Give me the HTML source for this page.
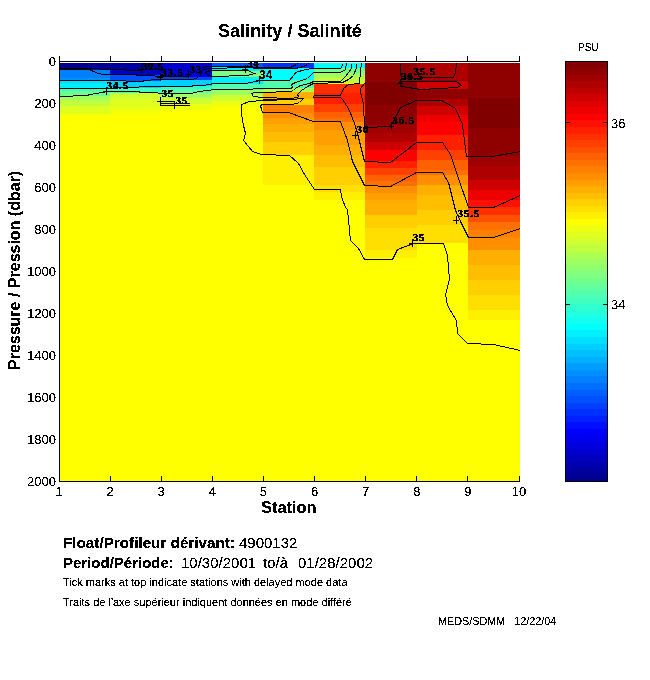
<!DOCTYPE html>
<html><head><meta charset="utf-8">
<style>
html,body{margin:0;padding:0;background:#fff;width:650px;height:680px;overflow:hidden;}
body{position:relative;font-family:"Liberation Sans",sans-serif;color:#000;}
.t{position:absolute;white-space:nowrap;line-height:1;filter:url(#crisp);}
svg{position:absolute;left:0;top:0;}
</style></head><body>
<svg width="650" height="680" viewBox="0 0 650 680">
<defs><filter id="crisp" x="-10%" y="-10%" width="120%" height="120%"><feComponentTransfer><feFuncA type="discrete" tableValues="0 0 1 1 1"/></feComponentTransfer></filter></defs>
<g shape-rendering="crispEdges">
<rect x="60" y="63" width="50" height="6" fill="#00008f"/>
<rect x="60" y="69" width="50" height="1" fill="#0000df"/>
<rect x="60" y="70" width="50" height="8" fill="#0080ff"/>
<rect x="60" y="78" width="50" height="3" fill="#008fff"/>
<rect x="60" y="81" width="50" height="3" fill="#00dfff"/>
<rect x="60" y="84" width="50" height="4" fill="#00efff"/>
<rect x="60" y="88" width="50" height="3" fill="#40ffbf"/>
<rect x="60" y="91" width="50" height="5" fill="#70ff8f"/>
<rect x="60" y="96" width="50" height="4" fill="#9fff60"/>
<rect x="60" y="100" width="50" height="6" fill="#bfff40"/>
<rect x="60" y="106" width="50" height="8" fill="#dfff20"/>
<rect x="60" y="114" width="50" height="367" fill="#ffff00"/>
<rect x="110" y="63" width="51" height="7" fill="#00009f"/>
<rect x="110" y="70" width="51" height="5" fill="#0000bf"/>
<rect x="110" y="75" width="51" height="6" fill="#0050ff"/>
<rect x="110" y="81" width="51" height="7" fill="#00cfff"/>
<rect x="110" y="88" width="51" height="5" fill="#40ffbf"/>
<rect x="110" y="93" width="51" height="6" fill="#cfff30"/>
<rect x="110" y="99" width="51" height="8" fill="#dfff20"/>
<rect x="110" y="107" width="51" height="6" fill="#efff10"/>
<rect x="110" y="113" width="51" height="368" fill="#ffff00"/>
<rect x="161" y="63" width="51" height="14" fill="#0000cf"/>
<rect x="161" y="77" width="51" height="3" fill="#0040ff"/>
<rect x="161" y="80" width="51" height="6" fill="#00cfff"/>
<rect x="161" y="86" width="51" height="3" fill="#30ffcf"/>
<rect x="161" y="89" width="51" height="4" fill="#60ff9f"/>
<rect x="161" y="93" width="51" height="5" fill="#9fff60"/>
<rect x="161" y="98" width="51" height="6" fill="#cfff30"/>
<rect x="161" y="104" width="51" height="6" fill="#efff10"/>
<rect x="161" y="110" width="51" height="371" fill="#ffff00"/>
<rect x="212" y="63" width="51" height="4" fill="#0050ff"/>
<rect x="212" y="67" width="51" height="4" fill="#00efff"/>
<rect x="212" y="71" width="51" height="6" fill="#80ff80"/>
<rect x="212" y="77" width="51" height="7" fill="#00efff"/>
<rect x="212" y="84" width="51" height="6" fill="#50ffaf"/>
<rect x="212" y="90" width="51" height="5" fill="#9fff60"/>
<rect x="212" y="95" width="51" height="6" fill="#cfff30"/>
<rect x="212" y="101" width="51" height="6" fill="#efff10"/>
<rect x="212" y="107" width="51" height="374" fill="#ffff00"/>
<rect x="263" y="63" width="51" height="5" fill="#0030ff"/>
<rect x="263" y="68" width="51" height="12" fill="#00ffff"/>
<rect x="263" y="80" width="51" height="8" fill="#50ffaf"/>
<rect x="263" y="88" width="51" height="4" fill="#afff50"/>
<rect x="263" y="92" width="51" height="7" fill="#ffaf00"/>
<rect x="263" y="99" width="51" height="6" fill="#ffcf00"/>
<rect x="263" y="105" width="51" height="8" fill="#ff8000"/>
<rect x="263" y="113" width="51" height="5" fill="#ff8f00"/>
<rect x="263" y="118" width="51" height="6" fill="#ff9f00"/>
<rect x="263" y="124" width="51" height="8" fill="#ffaf00"/>
<rect x="263" y="132" width="51" height="10" fill="#ffbf00"/>
<rect x="263" y="142" width="51" height="13" fill="#ffcf00"/>
<rect x="263" y="155" width="51" height="30" fill="#ffef00"/>
<rect x="263" y="185" width="51" height="296" fill="#ffff00"/>
<rect x="314" y="63" width="51" height="5" fill="#00ffff"/>
<rect x="314" y="68" width="51" height="5" fill="#70ff8f"/>
<rect x="314" y="73" width="51" height="4" fill="#9fff60"/>
<rect x="314" y="77" width="51" height="6" fill="#bfff40"/>
<rect x="314" y="83" width="51" height="1" fill="#ffef00"/>
<rect x="314" y="84" width="51" height="9" fill="#ff3000"/>
<rect x="314" y="93" width="51" height="11" fill="#ff2000"/>
<rect x="314" y="104" width="51" height="8" fill="#ff4000"/>
<rect x="314" y="112" width="51" height="6" fill="#ff6000"/>
<rect x="314" y="118" width="51" height="4" fill="#ff7000"/>
<rect x="314" y="122" width="51" height="8" fill="#ff8f00"/>
<rect x="314" y="130" width="51" height="15" fill="#ff9f00"/>
<rect x="314" y="145" width="51" height="10" fill="#ffaf00"/>
<rect x="314" y="155" width="51" height="12" fill="#ffbf00"/>
<rect x="314" y="167" width="51" height="18" fill="#ffcf00"/>
<rect x="314" y="185" width="51" height="7" fill="#ffdf00"/>
<rect x="314" y="192" width="51" height="8" fill="#ffef00"/>
<rect x="314" y="200" width="51" height="281" fill="#ffff00"/>
<rect x="365" y="63" width="52" height="19" fill="#8f0000"/>
<rect x="365" y="82" width="52" height="23" fill="#800000"/>
<rect x="365" y="105" width="52" height="20" fill="#8f0000"/>
<rect x="365" y="125" width="52" height="8" fill="#9f0000"/>
<rect x="365" y="133" width="52" height="9" fill="#af0000"/>
<rect x="365" y="142" width="52" height="8" fill="#cf0000"/>
<rect x="365" y="150" width="52" height="11" fill="#ff0000"/>
<rect x="365" y="161" width="52" height="7" fill="#ff2000"/>
<rect x="365" y="168" width="52" height="7" fill="#ff4000"/>
<rect x="365" y="175" width="52" height="6" fill="#ff6000"/>
<rect x="365" y="181" width="52" height="5" fill="#ff7000"/>
<rect x="365" y="186" width="52" height="7" fill="#ff8f00"/>
<rect x="365" y="193" width="52" height="7" fill="#ff9f00"/>
<rect x="365" y="200" width="52" height="15" fill="#ffaf00"/>
<rect x="365" y="215" width="52" height="13" fill="#ffcf00"/>
<rect x="365" y="228" width="52" height="22" fill="#ffdf00"/>
<rect x="365" y="250" width="52" height="8" fill="#ffef00"/>
<rect x="365" y="258" width="52" height="223" fill="#ffff00"/>
<rect x="417" y="63" width="51" height="17" fill="#af0000"/>
<rect x="417" y="80" width="51" height="1" fill="#8f0000"/>
<rect x="417" y="81" width="51" height="8" fill="#cf0000"/>
<rect x="417" y="89" width="51" height="10" fill="#8f0000"/>
<rect x="417" y="99" width="51" height="7" fill="#af0000"/>
<rect x="417" y="106" width="51" height="9" fill="#cf0000"/>
<rect x="417" y="115" width="51" height="7" fill="#ef0000"/>
<rect x="417" y="122" width="51" height="13" fill="#ff0000"/>
<rect x="417" y="135" width="51" height="15" fill="#ff2000"/>
<rect x="417" y="150" width="51" height="10" fill="#ff4000"/>
<rect x="417" y="160" width="51" height="10" fill="#ff6000"/>
<rect x="417" y="170" width="51" height="5" fill="#ff7000"/>
<rect x="417" y="175" width="51" height="10" fill="#ff8f00"/>
<rect x="417" y="185" width="51" height="10" fill="#ffaf00"/>
<rect x="417" y="195" width="51" height="15" fill="#ffbf00"/>
<rect x="417" y="210" width="51" height="15" fill="#ffcf00"/>
<rect x="417" y="225" width="51" height="18" fill="#ffdf00"/>
<rect x="417" y="243" width="51" height="238" fill="#ffff00"/>
<rect x="468" y="63" width="52" height="35" fill="#8f0000"/>
<rect x="468" y="98" width="52" height="30" fill="#800000"/>
<rect x="468" y="128" width="52" height="28" fill="#8f0000"/>
<rect x="468" y="156" width="52" height="10" fill="#9f0000"/>
<rect x="468" y="166" width="52" height="14" fill="#af0000"/>
<rect x="468" y="180" width="52" height="10" fill="#cf0000"/>
<rect x="468" y="190" width="52" height="10" fill="#ef0000"/>
<rect x="468" y="200" width="52" height="7" fill="#ff1000"/>
<rect x="468" y="207" width="52" height="8" fill="#ff3000"/>
<rect x="468" y="215" width="52" height="7" fill="#ff5000"/>
<rect x="468" y="222" width="52" height="8" fill="#ff7000"/>
<rect x="468" y="230" width="52" height="7" fill="#ff8000"/>
<rect x="468" y="237" width="52" height="13" fill="#ff8f00"/>
<rect x="468" y="250" width="52" height="15" fill="#ffaf00"/>
<rect x="468" y="265" width="52" height="15" fill="#ffbf00"/>
<rect x="468" y="280" width="52" height="15" fill="#ffcf00"/>
<rect x="468" y="295" width="52" height="15" fill="#ffdf00"/>
<rect x="468" y="310" width="52" height="10" fill="#ffef00"/>
<rect x="468" y="320" width="52" height="161" fill="#ffff00"/>
<rect x="566" y="474.44" width="41" height="6.96" fill="#00008f"/>
<rect x="566" y="467.88" width="41" height="6.96" fill="#00009f"/>
<rect x="566" y="461.31" width="41" height="6.96" fill="#0000af"/>
<rect x="566" y="454.75" width="41" height="6.96" fill="#0000bf"/>
<rect x="566" y="448.19" width="41" height="6.96" fill="#0000cf"/>
<rect x="566" y="441.62" width="41" height="6.96" fill="#0000df"/>
<rect x="566" y="435.06" width="41" height="6.96" fill="#0000ef"/>
<rect x="566" y="428.50" width="41" height="6.96" fill="#0000ff"/>
<rect x="566" y="421.94" width="41" height="6.96" fill="#0010ff"/>
<rect x="566" y="415.38" width="41" height="6.96" fill="#0020ff"/>
<rect x="566" y="408.81" width="41" height="6.96" fill="#0030ff"/>
<rect x="566" y="402.25" width="41" height="6.96" fill="#0040ff"/>
<rect x="566" y="395.69" width="41" height="6.96" fill="#0050ff"/>
<rect x="566" y="389.12" width="41" height="6.96" fill="#0060ff"/>
<rect x="566" y="382.56" width="41" height="6.96" fill="#0070ff"/>
<rect x="566" y="376.00" width="41" height="6.96" fill="#0080ff"/>
<rect x="566" y="369.44" width="41" height="6.96" fill="#008fff"/>
<rect x="566" y="362.88" width="41" height="6.96" fill="#009fff"/>
<rect x="566" y="356.31" width="41" height="6.96" fill="#00afff"/>
<rect x="566" y="349.75" width="41" height="6.96" fill="#00bfff"/>
<rect x="566" y="343.19" width="41" height="6.96" fill="#00cfff"/>
<rect x="566" y="336.62" width="41" height="6.96" fill="#00dfff"/>
<rect x="566" y="330.06" width="41" height="6.96" fill="#00efff"/>
<rect x="566" y="323.50" width="41" height="6.96" fill="#00ffff"/>
<rect x="566" y="316.94" width="41" height="6.96" fill="#10ffef"/>
<rect x="566" y="310.38" width="41" height="6.96" fill="#20ffdf"/>
<rect x="566" y="303.81" width="41" height="6.96" fill="#30ffcf"/>
<rect x="566" y="297.25" width="41" height="6.96" fill="#40ffbf"/>
<rect x="566" y="290.69" width="41" height="6.96" fill="#50ffaf"/>
<rect x="566" y="284.12" width="41" height="6.96" fill="#60ff9f"/>
<rect x="566" y="277.56" width="41" height="6.96" fill="#70ff8f"/>
<rect x="566" y="271.00" width="41" height="6.96" fill="#80ff80"/>
<rect x="566" y="264.44" width="41" height="6.96" fill="#8fff70"/>
<rect x="566" y="257.88" width="41" height="6.96" fill="#9fff60"/>
<rect x="566" y="251.31" width="41" height="6.96" fill="#afff50"/>
<rect x="566" y="244.75" width="41" height="6.96" fill="#bfff40"/>
<rect x="566" y="238.19" width="41" height="6.96" fill="#cfff30"/>
<rect x="566" y="231.62" width="41" height="6.96" fill="#dfff20"/>
<rect x="566" y="225.06" width="41" height="6.96" fill="#efff10"/>
<rect x="566" y="218.50" width="41" height="6.96" fill="#ffff00"/>
<rect x="566" y="211.94" width="41" height="6.96" fill="#ffef00"/>
<rect x="566" y="205.38" width="41" height="6.96" fill="#ffdf00"/>
<rect x="566" y="198.81" width="41" height="6.96" fill="#ffcf00"/>
<rect x="566" y="192.25" width="41" height="6.96" fill="#ffbf00"/>
<rect x="566" y="185.69" width="41" height="6.96" fill="#ffaf00"/>
<rect x="566" y="179.12" width="41" height="6.96" fill="#ff9f00"/>
<rect x="566" y="172.56" width="41" height="6.96" fill="#ff8f00"/>
<rect x="566" y="166.00" width="41" height="6.96" fill="#ff8000"/>
<rect x="566" y="159.44" width="41" height="6.96" fill="#ff7000"/>
<rect x="566" y="152.88" width="41" height="6.96" fill="#ff6000"/>
<rect x="566" y="146.31" width="41" height="6.96" fill="#ff5000"/>
<rect x="566" y="139.75" width="41" height="6.96" fill="#ff4000"/>
<rect x="566" y="133.19" width="41" height="6.96" fill="#ff3000"/>
<rect x="566" y="126.62" width="41" height="6.96" fill="#ff2000"/>
<rect x="566" y="120.06" width="41" height="6.96" fill="#ff1000"/>
<rect x="566" y="113.50" width="41" height="6.96" fill="#ff0000"/>
<rect x="566" y="106.94" width="41" height="6.96" fill="#ef0000"/>
<rect x="566" y="100.38" width="41" height="6.96" fill="#df0000"/>
<rect x="566" y="93.81" width="41" height="6.96" fill="#cf0000"/>
<rect x="566" y="87.25" width="41" height="6.96" fill="#bf0000"/>
<rect x="566" y="80.69" width="41" height="6.96" fill="#af0000"/>
<rect x="566" y="74.12" width="41" height="6.96" fill="#9f0000"/>
<rect x="566" y="67.56" width="41" height="6.96" fill="#8f0000"/>
<rect x="566" y="61.00" width="41" height="6.96" fill="#800000"/>
<rect x="565" y="61" width="43" height="1" fill="#000"/><rect x="565" y="481" width="43" height="1" fill="#000"/><rect x="565" y="61" width="1" height="421" fill="#000"/><rect x="607" y="61" width="1" height="421" fill="#000"/>
<rect x="566" y="122" width="4" height="1" fill="#000"/><rect x="603" y="122" width="4" height="1" fill="#000"/>
<rect x="566" y="304" width="4" height="1" fill="#000"/><rect x="603" y="304" width="4" height="1" fill="#000"/>
<rect x="59" y="61" width="461" height="1" fill="#000"/>
<rect x="59" y="481" width="461" height="1" fill="#000"/>
<rect x="59" y="61" width="1" height="421" fill="#000"/>
<rect x="59" y="56" width="1" height="5" fill="#000"/>
<rect x="59" y="476" width="1" height="5" fill="#000"/>
<rect x="110" y="56" width="1" height="5" fill="#000"/>
<rect x="110" y="476" width="1" height="5" fill="#000"/>
<rect x="161" y="56" width="1" height="5" fill="#000"/>
<rect x="161" y="476" width="1" height="5" fill="#000"/>
<rect x="212" y="56" width="1" height="5" fill="#000"/>
<rect x="212" y="476" width="1" height="5" fill="#000"/>
<rect x="263" y="56" width="1" height="5" fill="#000"/>
<rect x="263" y="476" width="1" height="5" fill="#000"/>
<rect x="314" y="56" width="1" height="5" fill="#000"/>
<rect x="314" y="476" width="1" height="5" fill="#000"/>
<rect x="365" y="56" width="1" height="5" fill="#000"/>
<rect x="365" y="476" width="1" height="5" fill="#000"/>
<rect x="416" y="56" width="1" height="5" fill="#000"/>
<rect x="416" y="476" width="1" height="5" fill="#000"/>
<rect x="467" y="56" width="1" height="5" fill="#000"/>
<rect x="467" y="476" width="1" height="5" fill="#000"/>
<rect x="519" y="56" width="1" height="5" fill="#000"/>
<rect x="519" y="476" width="1" height="5" fill="#000"/>

</g>
<defs><clipPath id="axclip"><rect x="60" y="62" width="460" height="419"/></clipPath></defs>
<g shape-rendering="crispEdges">
<polyline fill="none" stroke="#000" stroke-width="1" points="59.5,68.5 89.5,68.5 109.5,69.5 141.5,70.5 146.5,68.5 150.5,63.5"/>
<polyline fill="none" stroke="#000" stroke-width="1" points="59.5,69.5 89.5,69.5 93.5,71.5 98.5,73.5 103.5,74.5 135.5,74.5 137.5,75.5 148.5,75.5 160.5,76.5 188.5,76.5"/>
<polyline fill="none" stroke="#000" stroke-width="1" points="202.5,67.5 207.5,66.5 245.5,66.5 260.5,67.5 290.5,67.5 296.5,64.5 297.5,63.5"/>
<polyline fill="none" stroke="#000" stroke-width="1" points="59.5,80.5 109.5,80.5 142.5,81.5 144.5,80.5 157.5,79.5 192.5,79.5 198.5,77.5 200.5,75.5 202.5,69.5 209.5,68.5 245.5,67.5 260.5,68.5 295.5,68.5 303.5,66.5 307.5,64.5 308.5,63.5"/>
<polyline fill="none" stroke="#000" stroke-width="1" points="247.5,70.5 254.5,73.5 247.5,75.5 211.5,76.5 207.5,74.5 205.5,72.5 209.5,70.5 247.5,70.5"/>
<polyline fill="none" stroke="#000" stroke-width="1" points="59.5,88.5 105.5,88.5 128.5,87.5 150.5,86.5 192.5,86.5 192.5,85.5 201.5,85.5 210.5,84.5 212.5,83.5 245.5,83.5 260.5,80.5 289.5,80.5 294.5,74.5 295.5,72.5 305.5,69.5 313.5,68.5 340.5,68.5 342.5,65.5 342.5,63.5"/>
<polyline fill="none" stroke="#000" stroke-width="1" points="59.5,96.5 86.5,95.5 90.5,94.5 96.5,93.5 101.5,92.5 109.5,91.5 138.5,91.5 140.5,92.5 175.5,93.5 192.5,93.5 193.5,92.5 200.5,91.5 206.5,90.5 215.5,89.5 245.5,89.5 260.5,88.5 290.5,88.5 292.5,87.5 291.5,84.5 295.5,82.5 301.5,80.5 307.5,78.5 313.5,72.5 340.5,72.5 345.5,69.5 346.5,63.5"/>
<polyline fill="none" stroke="#000" stroke-width="1" points="251.5,93.5 254.5,92.5 262.5,92.5 290.5,91.5 293.5,90.5 295.5,88.5 300.5,85.5 309.5,83.5 313.5,81.5 340.5,81.5 345.5,76.5 351.5,68.5 351.5,63.5"/>
<polyline fill="none" stroke="#000" stroke-width="1" points="251.5,93.5 253.5,96.5 262.5,97.5 291.5,98.5 297.5,97.5 298.5,96.5 297.5,94.5 301.5,90.5 307.5,86.5 313.5,83.5 342.5,82.5 348.5,79.5 353.5,75.5 356.5,67.5 356.5,63.5"/>
<polyline fill="none" stroke="#000" stroke-width="1" points="262.5,99.5 291.5,99.5"/>
<polyline fill="none" stroke="#000" stroke-width="1" points="262.5,100.5 249.5,101.5 241.5,104.5 241.5,114.5 243.5,125.5 245.5,133.5 243.5,140.5 248.5,146.5 252.5,151.5 261.5,154.5 289.5,155.5 298.5,163.5 304.5,174.5 314.5,189.5 340.5,189.5 341.5,196.5 345.5,207.5 347.5,209.5 350.5,240.5 358.5,248.5 364.5,259.5 392.5,259.5 397.5,249.5 413.5,243.5 443.5,243.5 447.5,255.5 449.5,279.5 445.5,294.5 447.5,305.5 456.5,320.5 457.5,333.5 467.5,343.5 493.5,344.5 520.5,350.5"/>
<polyline fill="none" stroke="#000" stroke-width="1" points="262.5,100.5 292.5,99.5 302.5,98.5 303.5,98.5 299.5,102.5 292.5,104.5 262.5,104.5 260.5,105.5 261.5,109.5 262.5,112.5 288.5,112.5 313.5,121.5 340.5,121.5 347.5,140.5 352.5,161.5 364.5,185.5 390.5,186.5 416.5,172.5 442.5,172.5 448.5,182.5 455.5,210.5 461.5,223.5 468.5,237.5 493.5,237.5 520.5,228.5"/>
<polyline fill="none" stroke="#000" stroke-width="1" points="313.5,95.5 340.5,95.5 343.5,88.5 348.5,84.5 359.5,83.5 360.5,70.5 361.5,63.5"/>
<polyline fill="none" stroke="#000" stroke-width="1" points="313.5,95.5 313.5,96.5 313.5,97.5 340.5,97.5 342.5,99.5 346.5,105.5 349.5,110.5 354.5,123.5 357.5,133.5 364.5,161.5 390.5,162.5 416.5,142.5 442.5,142.5 450.5,154.5 457.5,175.5 468.5,207.5 493.5,207.5 520.5,195.5"/>
<polyline fill="none" stroke="#000" stroke-width="1" points="365.5,82.5 360.5,88.5 360.5,91.5 363.5,104.5 364.5,127.5 390.5,126.5 397.5,113.5 400.5,107.5 416.5,100.5 441.5,100.5 455.5,108.5 462.5,124.5 466.5,156.5 492.5,156.5 520.5,151.5"/>
<polyline fill="none" stroke="#000" stroke-width="1" points="400.5,63.5 400.5,72.5 401.5,78.5 443.5,77.5 453.5,77.5 455.5,72.5 456.5,63.5"/>
<polyline fill="none" stroke="#000" stroke-width="1" points="399.5,81.5 456.5,81.5 461.5,85.5 456.5,87.5 421.5,89.5 401.5,86.5 399.5,81.5"/>
<polyline fill="none" stroke="#000" stroke-width="1" points="157.5,101.5 173.5,101.5"/>
<polyline fill="none" stroke="#000" stroke-width="1" points="160.5,103.5 189.5,103.5"/>
<polyline fill="none" stroke="#000" stroke-width="1" points="159.5,105.5 189.5,105.5"/>
</g>
<g clip-path="url(#axclip)"><g filter="url(#crisp)">
<text x="141.7" y="69.5" font-family="Liberation Serif" font-weight="bold" font-size="11" letter-spacing="0.8" stroke="#000" stroke-width="0.35">32.5</text>
<text x="161.3" y="76.0" font-family="Liberation Serif" font-weight="bold" font-size="11" letter-spacing="0.8" stroke="#000" stroke-width="0.35">33.5</text>
<text x="189.4" y="73.0" font-family="Liberation Serif" font-weight="bold" font-size="11" letter-spacing="0.8" stroke="#000" stroke-width="0.35">33</text>
<text x="106.5" y="89.0" font-family="Liberation Serif" font-weight="bold" font-size="11" letter-spacing="0.8" stroke="#000" stroke-width="0.35">34.5</text>
<text x="161.5" y="97.3" font-family="Liberation Serif" font-weight="bold" font-size="11" letter-spacing="0.8" stroke="#000" stroke-width="0.35">35</text>
<text x="175.4" y="103.5" font-family="Liberation Serif" font-weight="bold" font-size="11" letter-spacing="0.8" stroke="#000" stroke-width="0.35">35</text>
<text x="247.0" y="67.0" font-family="Liberation Serif" font-weight="bold" font-size="11" letter-spacing="0.8" stroke="#000" stroke-width="0.35">34</text>
<text x="259.0" y="79.0" font-family="Liberation Sans" font-weight="bold" font-size="12">34</text>
<text x="356.6" y="132.6" font-family="Liberation Serif" font-weight="bold" font-size="11" letter-spacing="0.8" stroke="#000" stroke-width="0.35">36</text>
<text x="392.3" y="124.0" font-family="Liberation Serif" font-weight="bold" font-size="11" letter-spacing="0.8" stroke="#000" stroke-width="0.35">36.5</text>
<text x="413.5" y="75.0" font-family="Liberation Serif" font-weight="bold" font-size="11" letter-spacing="0.8" stroke="#000" stroke-width="0.35">35.5</text>
<text x="401.0" y="80.0" font-family="Liberation Serif" font-weight="bold" font-size="11" letter-spacing="0.8" stroke="#000" stroke-width="0.35">36.5</text>
<text x="457.6" y="216.5" font-family="Liberation Serif" font-weight="bold" font-size="11" letter-spacing="0.8" stroke="#000" stroke-width="0.35">35.5</text>
<text x="412.8" y="241.0" font-family="Liberation Serif" font-weight="bold" font-size="11" letter-spacing="0.8" stroke="#000" stroke-width="0.35">35</text>
</g></g>
<g shape-rendering="crispEdges"><path d="M141.5 65.0v8M138.0 69.5h6" stroke="#000" fill="none"/>
<path d="M160.5 73.0v8M157.0 77.5h6" stroke="#000" fill="none"/>
<path d="M188.5 70.0v8M185.0 74.5h6" stroke="#000" fill="none"/>
<path d="M106.5 87.0v8M103.0 91.5h6" stroke="#000" fill="none"/>
<path d="M160.5 97.0v8M157.0 101.5h6" stroke="#000" fill="none"/>
<path d="M174.5 101.0v8M171.0 105.5h6" stroke="#000" fill="none"/>
<path d="M245.5 65.0v8M242.0 69.5h6" stroke="#000" fill="none"/>
<path d="M259.5 76.0v8M256.0 80.5h6" stroke="#000" fill="none"/>
<path d="M355.5 131.0v8M352.0 135.5h6" stroke="#000" fill="none"/>
<path d="M391.5 122.0v8M388.0 126.5h6" stroke="#000" fill="none"/>
<path d="M400.5 79.0v8M397.0 83.5h6" stroke="#000" fill="none"/>
<path d="M456.5 216.0v8M453.0 220.5h6" stroke="#000" fill="none"/>
<path d="M412.5 239.0v8M409.0 243.5h6" stroke="#000" fill="none"/></g>

</svg>
<div class="t" id="title" style="left:218px;top:22px;font-size:18.1px;font-weight:bold">Salinity / Salinit&eacute;</div>
<div class="t" id="ylab" style="left:0px;top:0px;font-size:16px;font-weight:bold;transform-origin:0 0;transform:translate(7px,370px) rotate(-90deg)">Pressure / Pression (dbar)</div>
<div class="t" id="xlab" style="left:261px;top:499px;font-size:16.4px;font-weight:bold">Station</div>
<div class="t" style="left:578px;top:43px;font-size:10px">PSU</div>
<div class="t" style="left:611px;top:117px;font-size:13px">36</div>
<div class="t" style="left:611px;top:298px;font-size:13px">34</div>
<div class="t" style="left:63px;top:535px;font-size:15.25px;font-weight:bold">Float/Profileur d&eacute;rivant:</div>
<div class="t" style="left:239px;top:535px;font-size:15px">4900132</div>
<div class="t" style="left:63px;top:555px;font-size:15px;font-weight:bold">Period/P&eacute;riode:</div>
<div class="t" style="left:181px;top:555px;font-size:15px">10/30/2001</div>
<div class="t" style="left:263px;top:555px;font-size:15px">to/&agrave;</div>
<div class="t" style="left:298px;top:555px;font-size:15px">01/28/2002</div>
<div class="t" id="l3" style="left:63px;top:577px;font-size:11px">Tick marks at top indicate stations with delayed mode data</div>
<div class="t" id="l4" style="left:63px;top:597px;font-size:11px">Traits de l'axe sup&eacute;rieur indiquent donn&eacute;es en mode diff&eacute;r&eacute;</div>
<div class="t" id="meds" style="left:438px;top:616px;font-size:10.8px">MEDS/SDMM&nbsp;&nbsp; 12/22/04</div>
<div class="t" style="right:594px;top:55px;font-size:13px">0</div>
<div class="t" style="right:594px;top:97px;font-size:13px">200</div>
<div class="t" style="right:594px;top:139px;font-size:13px">400</div>
<div class="t" style="right:594px;top:181px;font-size:13px">600</div>
<div class="t" style="right:594px;top:223px;font-size:13px">800</div>
<div class="t" style="right:594px;top:265px;font-size:13px">1000</div>
<div class="t" style="right:594px;top:307px;font-size:13px">1200</div>
<div class="t" style="right:594px;top:349px;font-size:13px">1400</div>
<div class="t" style="right:594px;top:391px;font-size:13px">1600</div>
<div class="t" style="right:594px;top:433px;font-size:13px">1800</div>
<div class="t" style="right:594px;top:475px;font-size:13px">2000</div>
<div class="t" style="left:59.0px;top:485px;font-size:13px;width:40px;margin-left:-20px;text-align:center">1</div>
<div class="t" style="left:110.1px;top:485px;font-size:13px;width:40px;margin-left:-20px;text-align:center">2</div>
<div class="t" style="left:161.2px;top:485px;font-size:13px;width:40px;margin-left:-20px;text-align:center">3</div>
<div class="t" style="left:212.3px;top:485px;font-size:13px;width:40px;margin-left:-20px;text-align:center">4</div>
<div class="t" style="left:263.4px;top:485px;font-size:13px;width:40px;margin-left:-20px;text-align:center">5</div>
<div class="t" style="left:314.6px;top:485px;font-size:13px;width:40px;margin-left:-20px;text-align:center">6</div>
<div class="t" style="left:365.7px;top:485px;font-size:13px;width:40px;margin-left:-20px;text-align:center">7</div>
<div class="t" style="left:416.8px;top:485px;font-size:13px;width:40px;margin-left:-20px;text-align:center">8</div>
<div class="t" style="left:467.9px;top:485px;font-size:13px;width:40px;margin-left:-20px;text-align:center">9</div>
<div class="t" style="left:519.0px;top:485px;font-size:13px;width:40px;margin-left:-20px;text-align:center">10</div>

</body></html>
